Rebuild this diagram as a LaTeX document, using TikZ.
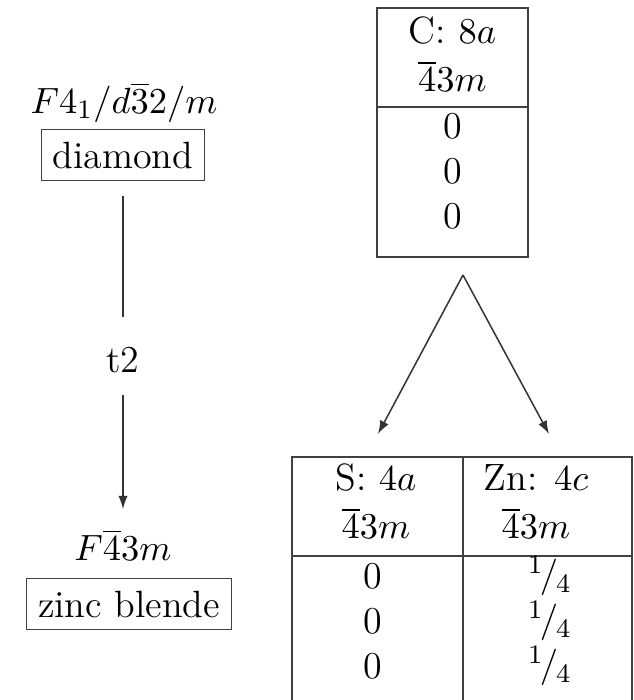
\documentclass[tikz,border=0pt]{standalone}
\usetikzlibrary{arrows.meta}
\newcommand{\quarterfrac}{${}^{1}\mkern-2mu/\mkern-1mu{}_{4}$}
\begin{document}
\begin{tikzpicture}[x=0.3pt,y=-0.3pt,
  font=\fontsize{11.4}{13.7}\selectfont,
  frame/.style={draw=black!75, line width=0.45pt},
  lbl/.style={inner sep=0pt, anchor=center},
  namebox/.style={frame, inner xsep=3.4pt, inner ysep=3.6pt},
  conn/.style={draw=black!80, line width=0.45pt},
  arr/.style={conn, -{Latex[length=4pt,width=2.8pt]}}]
\useasboundingbox (0,0) rectangle (634,700);

% left column: group-subgroup relation
\node[lbl, anchor=base] (sgA) at (124,113) {$F4_1/d\overline{3}2/m$};
\node[namebox] (dia) at (123,155) {diamond};
\node[lbl] (t2) at (123,360) {t2};
\node[lbl, anchor=base] (sgB) at (123,560) {$F\overline{4}3m$};
\node[namebox] (zb) at (129,604) {zinc blende};
\draw[conn, shorten <=4.5pt, shorten >=9pt] (dia.south -| t2) -- (t2);
\draw[arr, shorten <=6.6pt, shorten >=6pt] (t2) -- (sgB.north -| t2);

% upper Wyckoff table
\node[frame, inner sep=0pt, minimum width=45.3pt, minimum height=74.7pt] (ctab) at (452.5,132.5) {};
\draw[frame] (ctab.west |- 0,107) -- (ctab.east |- 0,107);
\node[lbl] (cHa) at (452.5,31) {C: $8a$};
\node[lbl] (cHb) at (452.5,76) {$\overline{4}3m$};
\node[lbl] (cX) at (452.5,126) {0};
\node[lbl] (cY) at (452.5,171) {0};
\node[lbl] (cZ) at (452.5,216) {0};

% splitting arrows
\coordinate (apex) at (463,275);
\coordinate (sTip) at (378,434);
\coordinate (zTip) at (549,434);
\draw[arr] (apex) -- (sTip);
\draw[arr] (apex) -- (zTip);

% lower Wyckoff table (runs past the lower edge)
\draw[frame] (292,706) -- (292,457) -- (632,457) -- (632,706);
\draw[frame] (463,457) -- (463,706);
\draw[frame] (292,556) -- (632,556);
\node[lbl] (sHa) at (376,478) {S: $4a$};
\node[lbl] (sHb) at (376,523) {$\overline{4}3m$};
\node[lbl] (sX) at (373,576) {0};
\node[lbl] (sY) at (373,621) {0};
\node[lbl] (sZ) at (373,666) {0};
\node[lbl] (zHa) at (536,478) {Zn: $4c$};
\node[lbl] (zHb) at (536,523) {$\overline{4}3m$};
\node[lbl] (zX) at (550,576) {\quarterfrac};
\node[lbl] (zY) at (550,621) {\quarterfrac};
\node[lbl] (zZ) at (550,666) {\quarterfrac};
\end{tikzpicture}
\end{document}
